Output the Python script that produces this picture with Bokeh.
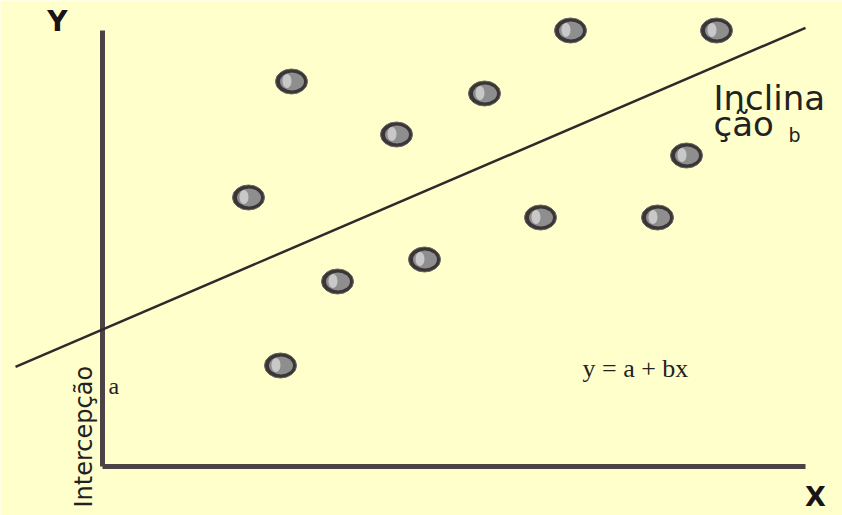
from bokeh.plotting import figure
from bokeh.models import Range1d
from bokeh.core.properties import value
from bokeh.embed import file_html
from bokeh.resources import INLINE
import numpy as np

# ---- data (conceptual scatter with regression line y = a + b x) ----
xs = [18.9, 46.8, 61.4, 38.2, 29.4, 58.4, 14.6, 43.8, 55.5, 32.2, 23.5, 17.8]
ys = [38.5, 43.6, 43.6, 37.3, 33.2, 31.1, 26.9, 24.9, 24.9, 20.7, 18.5, 10.1]
intercept_a = 13.7
slope_b = 0.429
line_x_start = -8.7
line_x_end = 70.3
axis_x_end = 70.3
axis_y_end = 43.6

BG = "#FFFFCC"

p = figure(width=842, height=515, output_backend="svg", toolbar_location=None,
           x_range=Range1d(-10.2, 74.0), y_range=Range1d(-4.9, 46.6),
           min_border=0, min_border_left=0, min_border_right=0,
           min_border_top=0, min_border_bottom=0)
p.axis.visible = False
p.grid.visible = False
p.outline_line_color = None
p.background_fill_color = BG
p.border_fill_color = BG

# axes
p.line([0, 0], [0, axis_y_end], line_color="#4d4346", line_width=5)
p.line([0, axis_x_end], [0, 0], line_color="#4d4346", line_width=5)

# regression line
lx = np.array([line_x_start, line_x_end])
p.line(lx, intercept_a + slope_b * lx, line_color="#2e2a2a", line_width=2.5)

# dots
xa = np.array(xs)
ya = np.array(ys)
p.ellipse(xa, ya, width=3.2, height=2.5, fill_color="#3a3636", line_color="#6a6464", line_width=1)
p.ellipse(xa + 0.05, ya, width=2.4, height=1.8, fill_color="#8e8e8e", line_color=None)
p.ellipse(xa - 0.45, ya + 0.05, width=0.9, height=1.4, fill_color="#d2d2d2", line_color=None, fill_alpha=0.85)

sans = value("DejaVu Sans")
serif = value("Liberation Serif")

# axis letters
p.text([-4.5], [44.5], text=["Y"], text_font=sans, text_font_size="28px",
       text_font_style="bold", text_align="center", text_baseline="middle", text_color="#1a1416")
p.text([71.3], [-3.0], text=["X"], text_font=sans, text_font_size="27px",
       text_font_style="bold", text_align="center", text_baseline="middle", text_color="#1a1416")

# intercept label (vertical)
p.text([-1.9], [-4.1], text=["Intercepção"], text_font=sans, text_font_size="24px",
       angle=np.pi / 2, text_align="left", text_baseline="alphabetic", text_color="#222222")
p.text([0.6], [8.1], text=["a"], text_font=serif, text_font_size="24px",
       text_align="left", text_baseline="alphabetic", text_color="#222222")

# slope label
p.text([61.1], [36.9], text=["Inclina"], text_font=sans, text_font_size="34px",
       text_align="left", text_baseline="alphabetic", text_color="#222222")
p.text([61.1], [34.3], text=["ção"], text_font=sans, text_font_size="34px",
       text_align="left", text_baseline="alphabetic", text_color="#222222")
p.text([68.6], [33.2], text=["b"], text_font=sans, text_font_size="19px",
       text_align="left", text_baseline="alphabetic", text_color="#222222")

# equation
p.text([48.0], [9.8], text=["y = a + bx"], text_font=serif, text_font_size="26px",
       text_align="left", text_baseline="alphabetic", text_color="#222222")

open("out.html", "w").write(file_html(p, INLINE))
